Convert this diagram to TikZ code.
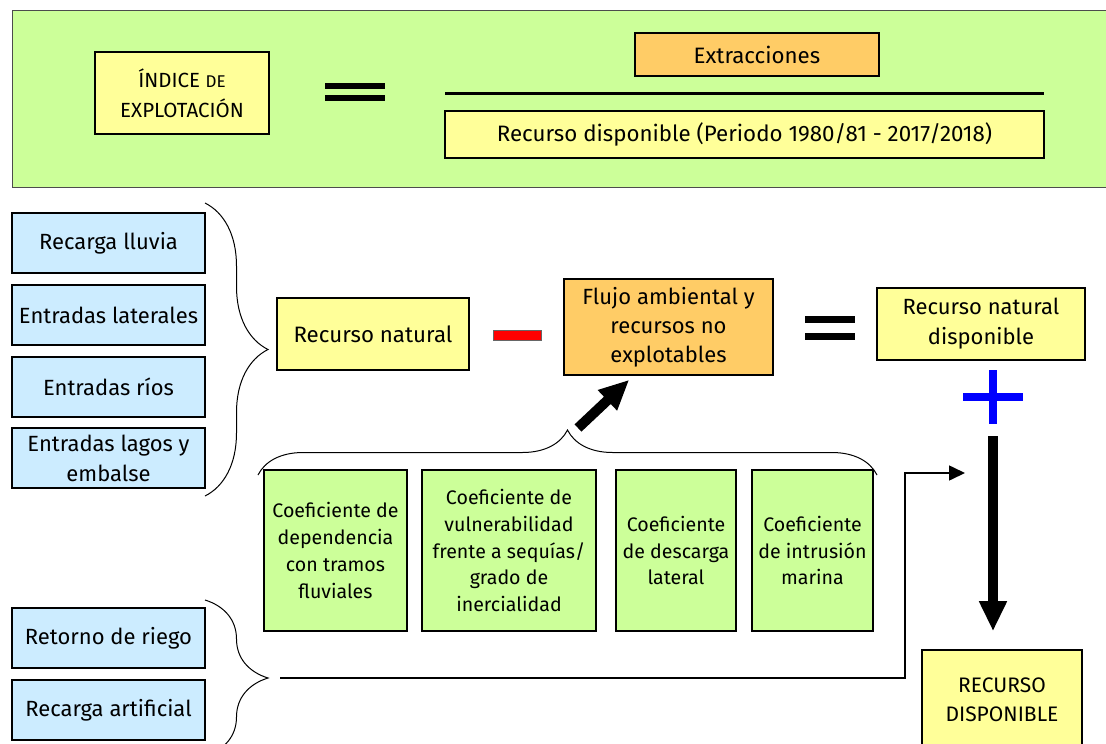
\documentclass[tikz,border=0pt]{standalone}
\usepackage{fontspec}
\setmainfont{Fira Sans}
\usetikzlibrary{arrows.meta,decorations.pathreplacing}
\definecolor{boxgreen}{HTML}{CCFF99}
\definecolor{boxyellow}{HTML}{FFFF99}
\definecolor{boxorange}{HTML}{FFCC66}
\definecolor{boxblue}{HTML}{CCECFF}
\definecolor{minusred}{HTML}{FF0000}
\definecolor{plusblue}{HTML}{0000FF}
\tikzset{
  box/.style={draw=black, line width=1.6pt, inner sep=0pt, align=center},
  ybox/.style={box, fill=boxyellow},
  obox/.style={box, fill=boxorange},
  bbox/.style={box, fill=boxblue, minimum width=193pt, minimum height=60pt, font=\fontsize{22}{30}\selectfont},
  gbox/.style={box, fill=boxgreen, minimum height=161pt, font=\fontsize{19.6}{26.7}\selectfont},
  bigbrace/.style={decorate, decoration={brace, amplitude=#1}, line width=1pt},
  bigarrow/.style={-{Triangle[length=30pt,width=26pt]}, line width=10pt},
  thinarrow/.style={-{Triangle[length=16pt,width=15pt]}, line width=1.6pt}
}
\begin{document}
\begin{tikzpicture}[x=1pt,y=-1pt]
  \useasboundingbox (0,0) rectangle (1106,744);
  % formula of the index
  \draw [fill=boxgreen, draw=black!70, line width=1pt] (12,10) rectangle (1112,187);
  \node [ybox, minimum width=174pt, minimum height=82pt, font=\fontsize{20.5}{30}\selectfont] (indice) at (182,93)
    {ÍNDICE {\fontsize{17}{30}\selectfont DE}\\EXPLOTACIÓN};
  \fill (325,83) rectangle (385,89);
  \fill (325,95) rectangle (385,101);
  \node [obox, minimum width=244pt, minimum height=43pt, font=\fontsize{22.3}{28}\selectfont] (extr) at (757,54.5) {Extracciones};
  \draw [line width=3pt] (445,93) -- (1044,93);
  \node [ybox, minimum width=599pt, minimum height=47pt, font=\fontsize{22.3}{28}\selectfont] (recdispon) at (744.5,134.5) {Recurso disponible (Periodo 1980/81 - 2017/2018)};
  % inputs
  \node [bbox] (lluvia) at (108.5,243) {Recarga lluvia};
  \node [bbox] (laterales) at (108.5,315) {Entradas laterales};
  \node [bbox] (rios) at (108.5,387) {Entradas ríos};
  \node [bbox] (lagos) at (108.5,458) {Entradas lagos y\\embalse};
  \node [bbox] (riego) at (108.5,638) {Retorno de riego};
  \node [bbox] (artificial) at (108.5,710) {Recarga artificial};
  \draw [bigbrace=63pt] (205,203) -- (205,496);
  \draw [bigbrace=63pt] (205,600) -- (205,756);
  % balance
  \node [ybox, minimum width=192pt, minimum height=72pt, font=\fontsize{22.3}{29}\selectfont] (recnat) at (373,334) {Recurso natural};
  \draw [fill=minusred, draw=black!60, line width=0.8pt] (493,330) rectangle (541,340);
  \node [obox, minimum width=209pt, minimum height=96pt, font=\fontsize{22}{29}\selectfont] (flujo) at (668.5,327) {Flujo ambiental y\\recursos no\\explotables};
  \fill (805,316) rectangle (855,323);
  \fill (805,333) rectangle (855,340);
  \node [ybox, minimum width=208pt, minimum height=72pt, font=\fontsize{22}{30}\selectfont] (recnatdisp) at (981,324) {Recurso natural\\disponible};
  \fill [plusblue] (963,393) rectangle (1023,401);
  \fill [plusblue] (989,370) rectangle (997,424);
  % coefficients
  \node [gbox, minimum width=143pt] (dependencia) at (335.5,550.5) {Coeficiente de\\dependencia\\con tramos\\fluviales};
  \node [gbox, minimum width=174pt] (vulnerab) at (509,550.5) {Coeficiente de\\vulnerabilidad\\frente a sequías/\\grado de\\inercialidad};
  \node [gbox, minimum width=120pt] (descarga) at (676,550.5) {Coeficiente\\de descarga\\lateral};
  \node [gbox, minimum width=121pt] (intrusion) at (812.5,550.5) {Coeficiente\\de intrusión\\marina};
  \draw [bigbrace=45pt] (258,475) -- (877,475);
  \coordinate (coefbrace) at (578,428);
  \draw [bigarrow] (coefbrace) -- ([xshift=66pt,yshift=-4pt]flujo.south west);
  % result
  \node [ybox, minimum width=160pt, minimum height=100pt, font=\fontsize{21}{29}\selectfont] (recfinal) at (1002,700) {RECURSO\\DISPONIBLE};
  \coordinate (plusbot) at (993,436);
  \draw [bigarrow] (plusbot) -- ([xshift=-9pt,yshift=18pt]recfinal.north);
  \coordinate (retip) at (280,678);
  \coordinate (sumin) at (965,473);
  \draw [thinarrow] (retip) -| (905,473) -- (sumin);
\end{tikzpicture}
\end{document}
